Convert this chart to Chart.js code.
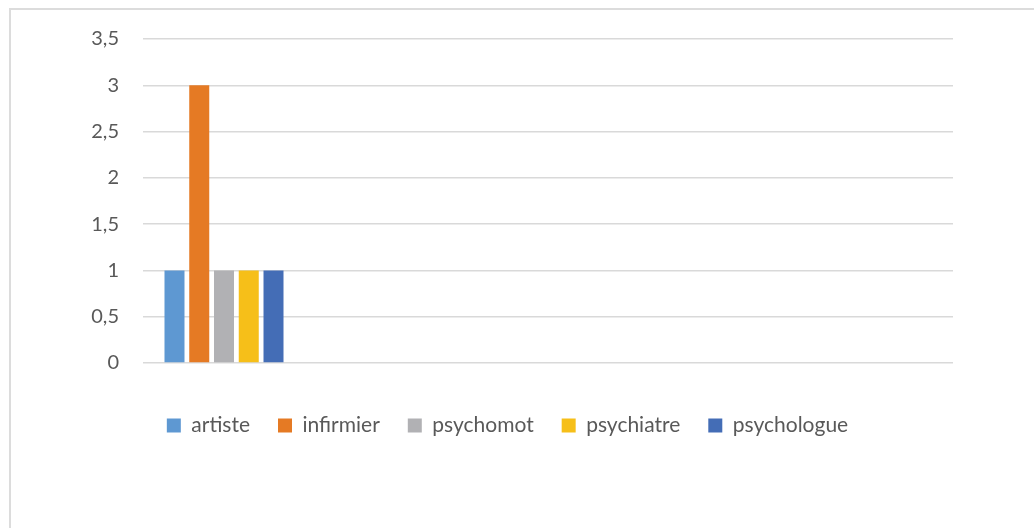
<!DOCTYPE html>
<html>
<head>
<meta charset="utf-8">
<script src="https://cdn.jsdelivr.net/npm/chart.js@4"></script>
<style>
    html, body { margin: 0; padding: 0; background: #fff; overflow: hidden; }
    .cadre {
        position: absolute; left: 9px; top: 8px; width: 1100px; height: 600px;
        border-left: 2px solid #dcdcdc; border-top: 2px solid #dcdcdc;
    }
    #myChart { position: absolute; left: 0; top: 0; }
</style>
</head>
<body>
<div class="cadre"></div>
<canvas id="myChart" width="1034" height="528"></canvas>
<script>
// Catégories (sans libellé visible) et valeurs de chaque série
const categories = ['', '', '', '', '']
const artiste = [1, null, null, null, null]
const infirmier = [3, null, null, null, null]
const psychomot = [1, null, null, null, null]
const psychiatre = [1, null, null, null, null]
const psychologue = [1, null, null, null, null]

// Graduations de l'axe Y
const yMin = 0
const yMax = 3.5
const yStep = 0.5

const police = 'Lato, "Liberation Sans", sans-serif'
const gris = '#595959'

const ctx = document.getElementById('myChart')

const serie = (label, data, color) => ({
    label: label,
    data: data,
    backgroundColor: color,
    borderWidth: 0,
    categoryPercentage: 0.764,
    barPercentage: 0.808,
})

// eslint-disable-next-line no-new, no-undef
new Chart(ctx, {
    type: 'bar',
    data: {
        labels: categories,
        datasets: [
            serie('artiste', artiste, '#5e98d2'),
            serie('infirmier', infirmier, '#e57a24'),
            serie('psychomot', psychomot, '#b1b1b4'),
            serie('psychiatre', psychiatre, '#f6bf19'),
            serie('psychologue', psychologue, '#446db6'),
        ],
    },
    options: {
        responsive: false,
        animation: false,
        layout: {
            padding: { top: 39, left: 62, right: 81, bottom: 82 },
        },
        scales: {
            x: {
                grid: { display: false },
                border: { display: false },
                ticks: { display: false },
                afterFit: scale => { scale.height = 24 },
            },
            y: {
                min: yMin,
                max: yMax,
                ticks: {
                    stepSize: yStep,
                    color: gris,
                    padding: 24,
                    font: { family: police, size: 20 },
                    callback: v => v.toString().replace('.', ','),
                },
                grid: { color: '#d9d9d9', lineWidth: 1.5, drawTicks: false },
                border: { display: false },
                afterFit: scale => { scale.width = 81 },
            },
        },
        plugins: {
            tooltip: { enabled: false },
            legend: {
                position: 'bottom',
                labels: {
                    color: gris,
                    boxWidth: 14,
                    boxHeight: 14,
                    padding: 28,
                    font: { family: police, size: 21 },
                },
            },
        },
    },
})
</script>
</body>
</html>
